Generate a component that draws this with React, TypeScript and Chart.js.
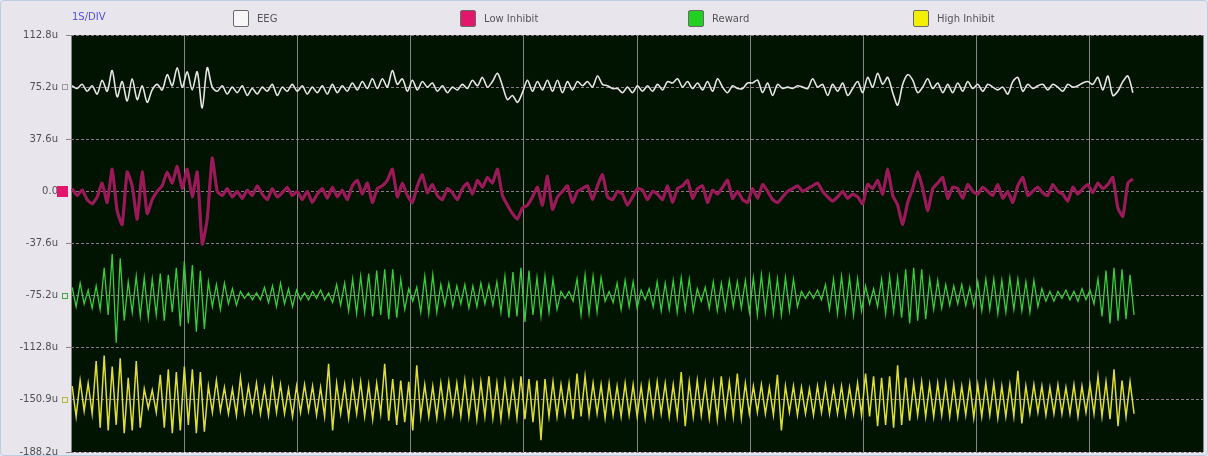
import { useEffect, useRef } from "react";
import { Chart, registerables } from "chart.js";

Chart.register(...registerables);

// ---------- data ----------
const SERIES_NAMES = ["EEG", "Low Inhibit", "Reward", "High Inhibit"];
const SERIES_COLORS = ["#e6e6e6", "#9a1a59", "#3ecb3e", "#dede3a"];
const LEGEND_SWATCHES = ["#f7f7f7", "#e2166c", "#22d022", "#f2f000"];
const MARKER_COLORS = ["#9a9a9a", "#e2166c", "#3aa83a", "#b8b830"];
const BASELINES = [75.2, 0, -75.2, -150.4];
const Y_TICKS = [112.8, 75.2, 37.6, 0, -37.6, -75.2, -112.8, -150.4, -188.0];
const Y_TICK_LABELS = ["112.8u", "75.2u", "37.6u", "0.0", "-37.6u", "-75.2u", "-112.8u", "-150.9u", "-188.2u"];
const X_SECONDS = 10;
const SLOW_START = 0.01;
const SLOW_STEP = 0.0442;
const FAST_START = 0.01;
const FAST_STEP = 0.0354;

// signal values (u) around each channel's baseline
const eeg = [
  1, -1, 2, -3, 1, -5, 5, -3, 12, -7,
  4, -10, 6, -9, 1, -11, -2, 2, -2, 9,
  1, 14, 0, 11, -2, 11, -15, 14, 0, -3,
  1, -5, 0, -4, 1, -6, -1, -5, 0, -3,
  2, -6, 0, -3, 2, -3, 1, -5, 0, -4,
  1, -5, 2, -4, 1, -3, 3, -2, 4, -1,
  6, -1, 6, 0, 12, 2, 6, -3, 5, -2,
  4, 0, 3, -3, 1, -4, 0, -2, 2, -1,
  5, 1, 7, 0, 4, 10, 1, -9, -6, -11,
  -4, 5, -3, 4, -2, 5, -3, 5, -4, 4,
  -2, 4, 1, 4, 0, 8, 2, 1, -1, -1,
  -4, 0, -4, 1, -3, 1, -3, 2, -2, 4,
  3, 6, 0, 4, -1, 3, -2, 4, -3, 6,
  0, -4, 1, -1, -1, 3, 3, 5, -4, 3,
  -6, 2, -1, 0, -1, 1, 0, -1, 6, 0,
  2, -6, 2, -3, 3, -6, -1, 4, -4, 7,
  0, 10, 2, 7, -4, -13, 2, 9, 5, -4,
  0, 6, -1, 3, -4, 2, -4, 3, -3, 4,
  -1, 2, -3, 2, 0, -2, 0, -5, 4, 7,
  -3, 2, -1, 1, 2, -2, 2, 0, -3, 2,
  0, 1, 3, 4, 2, 7, -2, 8, -6, -3,
  4, 8, -4,
];

const lowInhibit = [
  2, -3, 1, -6, -9, -4, 6, -8, 16, -14,
  -24, 14, 4, -20, 14, -16, -6, 0, 4, 14,
  6, 18, 2, 16, -4, 14, -38, -20, 24, 0,
  -3, 2, -4, 0, -5, 1, -3, 4, -2, -6,
  2, -4, -1, 3, -3, 0, -6, 0, -8, -2,
  2, -5, 3, -4, 1, -6, 4, 8, -2, 6,
  -8, 2, 4, 8, 16, -4, 6, -3, -8, 4,
  12, -1, 5, -3, -6, 2, -1, -6, 2, 6,
  -2, 8, 3, 10, 6, 16, -3, -10, -16, -20,
  -12, -10, -4, 3, -10, 11, -13, -4, 0, 4,
  -8, 0, 2, 4, -6, 4, 12, -4, -6, 0,
  -2, -10, -4, 2, 1, -6, 0, -2, -6, 4,
  -8, 2, 4, 8, -5, 2, 4, -8, 1, -2,
  3, 8, -5, 0, -6, -8, 2, -5, 5, 0,
  -6, -8, -4, 0, 2, 4, 0, 2, 4, 6,
  0, -4, -7, -4, 0, -5, -2, -4, -9, 5,
  2, 8, -2, 16, -3, -10, -24, -8, 2, 14,
  2, -14, 2, 6, 10, -5, 3, 2, -5, 5,
  0, -2, 3, 0, -3, 5, -5, 0, -8, 4,
  10, -3, 0, 3, -1, -3, 5, 0, -2, -7,
  3, -2, 2, 5, -1, 6, 2, 5, 10, -12,
  -18, 6, 9,
];

const reward = [
  6, -8, 9, -6, 4, -9, 7, -10, 20, -14,
  30, -34, 27, -18, 10, -12, 14, -15, 13, -16,
  12, -14, 16, -18, 15, -12, 20, -22, 25, -20,
  22, -26, 18, -24, 10, -8, 8, -10, 9, -6,
  5, -7, 3, -2, 2, -3, 2, -3, 6, -5,
  7, -8, 9, -6, 5, -8, 4, -3, 2, -3,
  3, -2, 4, -3, 2, -5, 8, -7, 9, -11,
  12, -13, 14, -12, 16, -15, 18, -14, 19, -17,
  19, -16, 12, -10, 5, -4, 6, -12, 14, -13,
  15, -12, 8, -7, 9, -8, 7, -6, 8, -9,
  7, -8, 9, -6, 8, -7, 10, -12, 14, -16,
  17, -15, 20, -19, 18, -14, 13, -15, 14, -12,
  12, -10, 3, -2, 3, -4, 12, -14, 15, -13,
  14, -12, 13, -4, 3, -5, 9, -10, 11, -8,
  10, -9, 4, -3, 5, -8, 10, -11, 9, -10,
  11, -12, 13, -10, 12, -11, 5, -4, 6, -9,
  10, -11, 9, -10, 11, -8, 10, -9, 11, -12,
  13, -14, 15, -12, 14, -13, 12, -14, 13, -11,
  12, -8, 3, -2, 3, -2, 4, -3, 8, -10,
  12, -13, 14, -12, 13, -14, 12, -11, 7, -6,
  5, -8, 12, -13, 14, -12, 13, -16, 19, -20,
  20, -18, 19, -17, 12, -10, 11, -9, 8, -7,
  7, -6, 8, -7, 6, -8, 10, -11, 12, -10,
  12, -13, 11, -12, 13, -10, 12, -11, 10, -12,
  11, -8, 5, -4, 3, -4, 3, -2, 4, -3,
  3, -4, 5, -3, 4, -6, 12, -15, 18, -20,
  20, -18, 19, -17, 15, -14,
];

const highInhibit = [
  10, -12, 14, -8, 12, -10, 28, -20, 32, -22,
  24, -18, 30, -24, 16, -22, 28, -20, 8, -6,
  7, -9, 18, -20, 22, -24, 20, -22, 24, -18,
  22, -24, 20, -23, 10, -9, 14, -8, 9, -10,
  8, -11, 16, -9, 10, -8, 12, -10, 9, -11,
  14, -9, 11, -10, 8, -12, 10, -9, 11, -8,
  10, -11, 9, -12, 26, -22, 12, -10, 11, -13,
  12, -10, 13, -12, 11, -14, 12, -10, 26, -15,
  15, -18, 14, -16, 13, -22, 25, -12, 11, -12,
  10, -13, 12, -11, 13, -10, 12, -12, 14, -12,
  12, -14, 13, -12, 17, -13, 12, -14, 13, -11,
  12, -13, 17, -14, 15, -16, 14, -29, 15, -12,
  13, -12, 11, -10, 12, -14, 19, -12, 17, -11,
  12, -10, 11, -13, 12, -11, 10, -12, 12, -11,
  11, -12, 10, -13, 12, -11, 13, -10, 12, -12,
  11, -12, 20, -19, 13, -12, 14, -11, 12, -13,
  12, -14, 17, -11, 13, -12, 19, -13, 12, -10,
  10, -9, 11, -10, 9, -11, 18, -22, 10, -9,
  10, -11, 9, -10, 8, -11, 10, -9, 11, -10,
  9, -10, 10, -11, 9, -10, 12, -11, 19, -12,
  17, -19, 16, -18, 17, -20, 25, -18, 16, -15,
  12, -11, 13, -12, 11, -12, 12, -11, 12, -12,
  11, -12, 10, -11, 12, -13, 11, -12, 12, -11,
  12, -13, 10, -12, 11, -12, 21, -17, 10, -10,
  11, -9, 10, -11, 9, -10, 11, -10, 9, -10,
  11, -12, 10, -9, 11, -10, 17, -12, 13, -14,
  22, -19, 14, -12, 13, -10,
];

// ---------- styling ----------
const PAGE_BG = "#e9e5ed";
const PLOT_BG = "#011301";
const LEGEND_X = [233, 460, 688, 913];
const LINE_WIDTHS = [1.6, 3.2, 1.3, 1.5];
const TENSIONS = [0.3, 0.15, 0, 0];

export default function App() {
  const canvasRef = useRef<HTMLCanvasElement>(null);

  useEffect(() => {
    document.body.style.margin = "0";
    const canvas = canvasRef.current;
    if (!canvas) return;

    const series = [eeg, lowInhibit, reward, highInhibit];
    const starts = [SLOW_START, SLOW_START, FAST_START, FAST_START];
    const steps = [SLOW_STEP, SLOW_STEP, FAST_STEP, FAST_STEP];

    const datasets = series.map((vals, k) => ({
      label: SERIES_NAMES[k],
      data: vals.map((v, i) => ({ x: starts[k] + i * steps[k], y: BASELINES[k] + v })),
      borderColor: SERIES_COLORS[k],
      borderWidth: LINE_WIDTHS[k],
      pointRadius: 0,
      tension: TENSIONS[k],
      fill: false,
    }));

    const plotBg = {
      id: "plotBg",
      beforeDraw(chart: any) {
        const { ctx, chartArea: a } = chart;
        ctx.save();
        ctx.fillStyle = PLOT_BG;
        ctx.fillRect(a.left, a.top, a.right - a.left, a.bottom - a.top);
        ctx.restore();
      },
    };

    const markers = {
      id: "baselineMarkers",
      afterDraw(chart: any) {
        const { ctx, chartArea } = chart;
        const yScale = chart.scales.y;
        const left = chartArea.left;
        BASELINES.forEach((b, k) => {
          const py = Math.round(yScale.getPixelForValue(b));
          ctx.save();
          if (k === 1) {
            ctx.fillStyle = MARKER_COLORS[k];
            ctx.fillRect(left - 14, py - 5, 11, 11);
          } else {
            ctx.fillStyle = PAGE_BG;
            ctx.fillRect(left - 9, py - 3, 6, 6);
            ctx.strokeStyle = MARKER_COLORS[k];
            ctx.lineWidth = 1;
            ctx.strokeRect(left - 8.5, py - 2.5, 5, 5);
          }
          ctx.restore();
        });
      },
    };

    const chart = new Chart(canvas, {
      type: "line",
      data: { datasets },
      options: {
        animation: false,
        responsive: false,
        events: [],
        layout: { padding: { top: 35, right: 5, bottom: 4, left: 0 } },
        plugins: { legend: { display: false }, tooltip: { enabled: false } },
        scales: {
          x: {
            type: "linear",
            min: 0,
            max: X_SECONDS,
            afterFit(scale: any) {
              scale.height = 0;
              scale.paddingLeft = 0;
              scale.paddingRight = 0;
            },
            ticks: { display: false, stepSize: 1 },
            grid: { color: "#858585", lineWidth: 1, drawTicks: false },
            border: { display: false },
          },
          y: {
            type: "linear",
            min: Y_TICKS[Y_TICKS.length - 1],
            max: Y_TICKS[0],
            afterFit(scale: any) {
              scale.width = 71;
              scale.paddingTop = 0;
              scale.paddingBottom = 0;
            },
            afterBuildTicks(scale: any) {
              scale.ticks = Y_TICKS.map((v) => ({ value: v }));
            },
            ticks: {
              padding: 8,
              color: "#505050",
              font: { family: "'DejaVu Sans', sans-serif", size: 10 },
              callback: (_v: any, i: number) => Y_TICK_LABELS[i],
            },
            grid: {
              color: "#8c7b89",
              lineWidth: 1,
              drawTicks: true,
              tickLength: 5,
              tickColor: (c: any) =>
                c.tick && BASELINES.includes(c.tick.value) ? "rgba(0,0,0,0)" : "#8a8a8a",
            },
            border: { display: false, dash: [3, 2] },
          },
        },
      },
      plugins: [plotBg, markers],
    } as any);

    return () => chart.destroy();
  }, []);

  return (
    <div
      style={{
        position: "relative",
        width: 1208,
        height: 456,
        background: PAGE_BG,
        overflow: "hidden",
        fontFamily: "'DejaVu Sans', sans-serif",
      }}
    >
      <canvas ref={canvasRef} width={1208} height={456} style={{ position: "absolute", left: 0, top: 0 }} />
      <div style={{ position: "absolute", left: 72, top: 11, fontSize: 10, color: "#5353dc" }}>1S/DIV</div>
      {SERIES_NAMES.map((name, k) => (
        <div
          key={name}
          style={{
            position: "absolute",
            left: LEGEND_X[k],
            top: 10,
            height: 17,
            display: "flex",
            alignItems: "center",
            gap: 8,
          }}
        >
          <span
            style={{
              display: "inline-block",
              width: 16,
              height: 17,
              boxSizing: "border-box",
              background: LEGEND_SWATCHES[k],
              border: "1px solid #6a6a6a",
              borderRadius: 2,
            }}
          />
          <span style={{ fontSize: 10, color: "#555" }}>{name}</span>
        </div>
      ))}
      <div
        style={{
          position: "absolute",
          inset: 0,
          border: "1px solid #b9cde3",
          borderRadius: 4,
          pointerEvents: "none",
        }}
      />
    </div>
  );
}
